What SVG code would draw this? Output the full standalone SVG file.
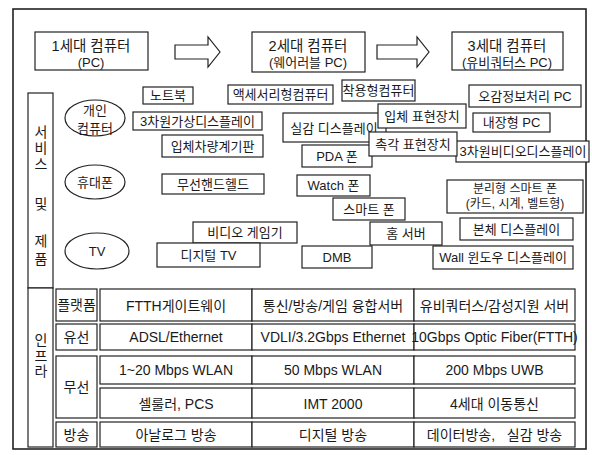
<svg xmlns="http://www.w3.org/2000/svg" width="592" height="455" viewBox="0 0 592 455">
<style>
text{font-family:"Liberation Sans","Noto Sans CJK KR",sans-serif;fill:#1a1a1a;text-anchor:middle;dominant-baseline:central}
.f{fill:none;stroke:#222;stroke-width:1.6}
.b{fill:#fff;stroke:#222;stroke-width:1.2}
.e{fill:#fff;stroke:#222;stroke-width:1.2}
.h{font-size:14.5px}
.hs{font-size:13px}
.p{font-size:13px}
.s{font-size:12px}
.t{font-size:14px}
.v{font-size:14px}
.ar{fill:#fff;stroke:#222;stroke-width:1.2}
</style>
<rect class="f" x="13" y="9" width="573" height="440"/>
<g id="header1"><rect class="b" x="35" y="32" width="113" height="38"/><text class="h" x="91" y="46">1세대 컴퓨터</text><text class="hs" x="91" y="62">(PC)</text></g>
<g id="header2"><rect class="b" x="252" y="32" width="113" height="40"/><text class="h" x="308" y="46">2세대 컴퓨터</text><text class="hs" x="308" y="62">(웨어러블 PC)</text></g>
<g id="header3"><rect class="b" x="452" y="32" width="111" height="38"/><text class="h" x="507" y="46">3세대 컴퓨터</text><text class="hs" x="507" y="62">(유비쿼터스 PC)</text></g>
<g id="connectors">
<path class="ar" d="M175,45 H208 V37 L220,52 L208,67 V59 H175 Z"/>
<path class="ar" d="M377,45 H417 V37 L429,52 L417,67 V59 H377 Z"/>
</g>
<g id="label-service"><rect class="b" x="28" y="93" width="25" height="195"/>
<text class="v" x="41" y="132">서</text><text class="v" x="41" y="148">비</text><text class="v" x="41" y="164">스</text><text class="v" x="41" y="204">및</text><text class="v" x="41" y="241">제</text><text class="v" x="41" y="259">품</text></g>
<g id="label-infra"><rect class="b" x="28" y="288" width="25" height="159"/>
<text class="v" x="41" y="340">인</text><text class="v" x="41" y="356">프</text><text class="v" x="41" y="371">라</text></g>
<g id="cat-pc"><ellipse class="e" cx="95" cy="118" rx="30" ry="18"/><text class="p" x="95" y="110">개인</text><text class="p" x="95" y="128">컴퓨터</text></g>
<g id="cat-phone"><ellipse class="e" cx="95" cy="182" rx="30" ry="17"/><text class="p" x="95" y="182">휴대폰</text></g>
<g id="cat-tv"><ellipse class="e" cx="97" cy="251" rx="32" ry="18"/><text class="p" x="97" y="251">TV</text></g>
<g id="n-notebook"><rect class="b" x="143" y="87" width="50" height="17"/><text class="p" x="168" y="95.5">노트북</text></g>
<g id="n-accessory"><rect class="b" x="228" y="85" width="105" height="19"/><text class="p" x="280.5" y="94.5">액세서리형컴퓨터</text></g>
<g id="n-wearable"><rect class="b" x="342" y="80" width="73" height="21"/><text class="p" x="378.5" y="90.5">착용형컴퓨터</text></g>
<g id="n-5sense"><rect class="b" x="469" y="85" width="112" height="22"/><text class="p" x="525" y="96">오감정보처리 PC</text></g>
<g id="n-3dvirtual"><rect class="b" x="133" y="112" width="129" height="18"/><text class="p" x="197.5" y="121">3차원가상디스플레이</text></g>
<g id="n-realistic"><rect class="b" x="283" y="113" width="103" height="29"/><text class="p" x="334" y="128">실감 디스플레이</text></g>
<g id="n-3dsurface"><rect class="b" x="378" y="104" width="88" height="24"/><text class="p" x="422" y="116">입체 표현장치</text></g>
<g id="n-embedded"><rect class="b" x="473" y="113" width="77" height="19"/><text class="p" x="511.5" y="122.5">내장형 PC</text></g>
<g id="n-dashboard"><rect class="b" x="162" y="135" width="101" height="22"/><text class="p" x="212.5" y="146">입체차량계기판</text></g>
<g id="n-pda"><rect class="b" x="302" y="145" width="70" height="22"/><text class="p" x="337" y="156">PDA 폰</text></g>
<g id="n-3dvideo"><rect class="b" x="456" y="141" width="133" height="21"/><text class="p" x="523" y="151.5">3차원비디오디스플레이</text></g>
<g id="n-tactile"><rect class="b" x="369" y="132" width="88" height="24"/><text class="p" x="413" y="144">촉각 표현장치</text></g>
<g id="n-handheld"><rect class="b" x="162" y="174" width="102" height="20"/><text class="p" x="213" y="184">무선핸드헬드</text></g>
<g id="n-watch"><rect class="b" x="297" y="175" width="73" height="21"/><text class="p" x="333.5" y="185.5">Watch 폰</text></g>
<g id="n-split"><rect class="b" x="447" y="180" width="136" height="33"/><text class="s" x="515" y="189">분리형 스마트 폰</text><text class="s" x="515" y="204">(카드, 시계, 벨트형)</text></g>
<g id="n-smart"><rect class="b" x="333" y="198" width="72" height="22"/><text class="p" x="369" y="209">스마트 폰</text></g>
<g id="n-game"><rect class="b" x="193" y="222" width="104" height="21"/><text class="p" x="245" y="232.5">비디오 게임기</text></g>
<g id="n-homeserver"><rect class="b" x="370" y="222" width="72" height="23"/><text class="p" x="406" y="233.5">홈 서버</text></g>
<g id="n-bodydisplay"><rect class="b" x="460" y="218" width="113" height="22"/><text class="p" x="516.5" y="229">본체 디스플레이</text></g>
<g id="n-dtv"><rect class="b" x="157" y="243" width="103" height="24"/><text class="p" x="208.5" y="255">디지털 TV</text></g>
<g id="n-dmb"><rect class="b" x="302" y="246" width="70" height="22"/><text class="p" x="337" y="257">DMB</text></g>
<g id="n-wall"><rect class="b" x="433" y="246" width="140" height="23"/><text class="p" x="503" y="257.5">Wall 윈도우 디스플레이</text></g>
<g id="row-platform"><rect class="b" x="56" y="289" width="41" height="32"/><text class="t" x="76.5" y="305">플랫폼</text>
<rect class="b" x="100" y="289" width="152" height="32"/><text class="t" x="176" y="306">FTTH게이트웨이</text>
<rect class="b" x="252" y="289" width="162" height="32"/><text class="t" x="333" y="306">통신/방송/게임 융합서버</text>
<rect class="b" x="414" y="289" width="161" height="32"/><text class="t" x="494.5" y="306">유비쿼터스/감성지원 서버</text></g>
<g id="row-wired"><rect class="b" x="56" y="324" width="41" height="26"/><text class="t" x="76.5" y="337">유선</text>
<rect class="b" x="100" y="324" width="152" height="26"/><text class="t" x="176" y="337">ADSL/Ethernet</text>
<rect class="b" x="252" y="324" width="162" height="26"/><text class="t" x="333" y="337">VDLI/3.2Gbps Ethernet</text>
<rect class="b" x="414" y="324" width="161" height="26"/><text class="t" x="494.5" y="337">10Gbps Optic Fiber(FTTH)</text></g>
<g id="row-wireless"><rect class="b" x="56" y="356" width="41" height="62"/><text class="t" x="76.5" y="387">무선</text>
<rect class="b" x="100" y="356" width="152" height="28"/><text class="t" x="176" y="370">1~20 Mbps WLAN</text>
<rect class="b" x="252" y="356" width="162" height="28"/><text class="t" x="333" y="370">50 Mbps WLAN</text>
<rect class="b" x="414" y="356" width="161" height="28"/><text class="t" x="494.5" y="370">200 Mbps UWB</text>
<rect class="b" x="100" y="388" width="152" height="30"/><text class="t" x="176" y="404">셀룰러, PCS</text>
<rect class="b" x="252" y="388" width="162" height="30"/><text class="t" x="333" y="404">IMT 2000</text>
<rect class="b" x="414" y="388" width="161" height="30"/><text class="t" x="494.5" y="404">4세대 이동통신</text></g>
<g id="row-broadcast"><rect class="b" x="56" y="422" width="41" height="25"/><text class="t" x="76.5" y="434.5">방송</text>
<rect class="b" x="100" y="422" width="152" height="25"/><text class="t" x="176" y="434.5">아날로그 방송</text>
<rect class="b" x="252" y="422" width="162" height="25"/><text class="t" x="333" y="434.5">디지털 방송</text>
<rect class="b" x="414" y="422" width="161" height="25"/><text class="t" x="494.5" y="434.5" xml:space="preserve">데이터방송,   실감 방송</text></g>
</svg>
